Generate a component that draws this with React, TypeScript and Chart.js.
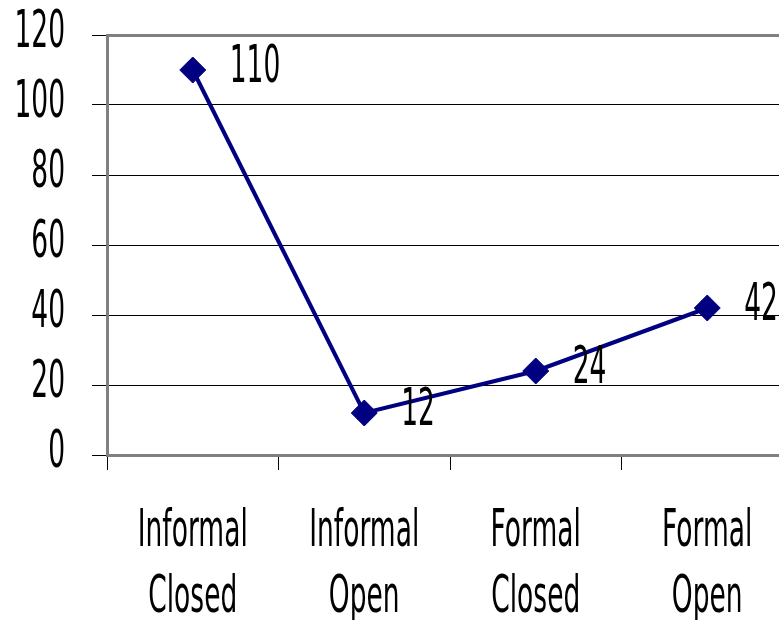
import React, { useEffect, useRef } from "react";
import { Chart, registerables } from "chart.js";

Chart.register(...registerables);

const categories: string[][] = [
  ["Informal", "Closed"],
  ["Informal", "Open"],
  ["Formal", "Closed"],
  ["Formal", "Open"],
];
const values: number[] = [110, 12, 24, 42];
const yMin = 0;
const yMax = 120;
const yStep = 20;

const FONT = '"DejaVu Sans", sans-serif';
const FONT_SIZE = 51;
const SQUEEZE = 0.52;
const NAVY = "#000080";

function squeezedText(ctx: CanvasRenderingContext2D, text: string, x: number, y: number, align: CanvasTextAlign) {
  ctx.save();
  ctx.translate(x, y);
  ctx.scale(SQUEEZE, 1);
  ctx.textAlign = align;
  ctx.textBaseline = "alphabetic";
  ctx.fillText(text, 0, 0);
  ctx.restore();
}

const narrowLabels = {
  id: "narrowLabels",
  afterDraw(chart: any) {
    const ctx: CanvasRenderingContext2D = chart.ctx;
    const xs = chart.scales.x;
    const ys = chart.scales.y;
    ctx.save();
    ctx.font = `${FONT_SIZE}px ${FONT}`;
    ctx.fillStyle = "#000";
    ys.ticks.forEach((t: any, i: number) => {
      const py = ys.getPixelForTick(i);
      squeezedText(ctx, String(t.value), ys.right - 42, py + 12, "right");
    });
    xs.ticks.forEach((t: any, i: number) => {
      const px = xs.getPixelForTick(i);
      const lbl = chart.data.labels[i] as string[];
      lbl.forEach((line: string, j: number) => {
        squeezedText(ctx, line, px, xs.top + 91 + j * 66, "center");
      });
    });
    const meta = chart.getDatasetMeta(0);
    meta.data.forEach((pt: any, i: number) => {
      squeezedText(ctx, String(chart.data.datasets[0].data[i]), pt.x + 37, pt.y + 11.5, "left");
    });
    ctx.restore();
  },
};

export default function App() {
  const ref = useRef<HTMLCanvasElement | null>(null);
  useEffect(() => {
    if (!ref.current) return;
    const chart = new Chart(ref.current, {
      type: "line",
      data: {
        labels: categories,
        datasets: [
          {
            data: values,
            borderColor: NAVY,
            backgroundColor: NAVY,
            borderWidth: 4,
            pointStyle: "rectRot",
            pointRadius: 13,
            pointHoverRadius: 13,
            pointBackgroundColor: NAVY,
            pointBorderColor: NAVY,
            pointBorderWidth: 1,
            tension: 0,
          },
        ],
      },
      options: {
        responsive: false,
        animation: false,
        devicePixelRatio: 1,
        layout: { padding: { top: 35, right: 4, left: 0, bottom: 0 } },
        plugins: {
          legend: { display: false },
          tooltip: { enabled: false },
          title: { display: false },
        },
        scales: {
          x: {
            type: "category",
            offset: true,
            grid: {
              display: true,
              offset: true,
              drawOnChartArea: false,
              drawTicks: true,
              tickLength: 15,
              tickColor: "#000",
              tickWidth: 1,
            },
            border: { display: true, color: "#808080", width: 3 },
            ticks: { display: false, autoSkip: false, maxRotation: 0 },
            afterFit: (scale: any) => {
              scale.height = 165;
            },
          },
          y: {
            min: yMin,
            max: yMax,
            grid: {
              color: (c: any) => (c.tick && c.tick.value === yMax ? "#808080" : "#000"),
              lineWidth: (c: any) => (c.tick && c.tick.value === yMax ? 3 : 1),
              tickLength: 15,
              tickColor: "#000",
              tickWidth: 1,
            },
            border: { display: true, color: "#808080", width: 3 },
            ticks: { display: false, stepSize: yStep },
            afterFit: (scale: any) => {
              scale.width = 107;
            },
          },
        },
      },
      plugins: [narrowLabels],
    });
    return () => chart.destroy();
  }, []);
  return (
    <div style={{ position: "fixed", left: 0, top: 0, width: 779, height: 620, overflow: "hidden", background: "#fff" }}>
      <canvas ref={ref} width={807} height={620} style={{ width: 807, height: 620, display: "block" }} />
    </div>
  );
}
